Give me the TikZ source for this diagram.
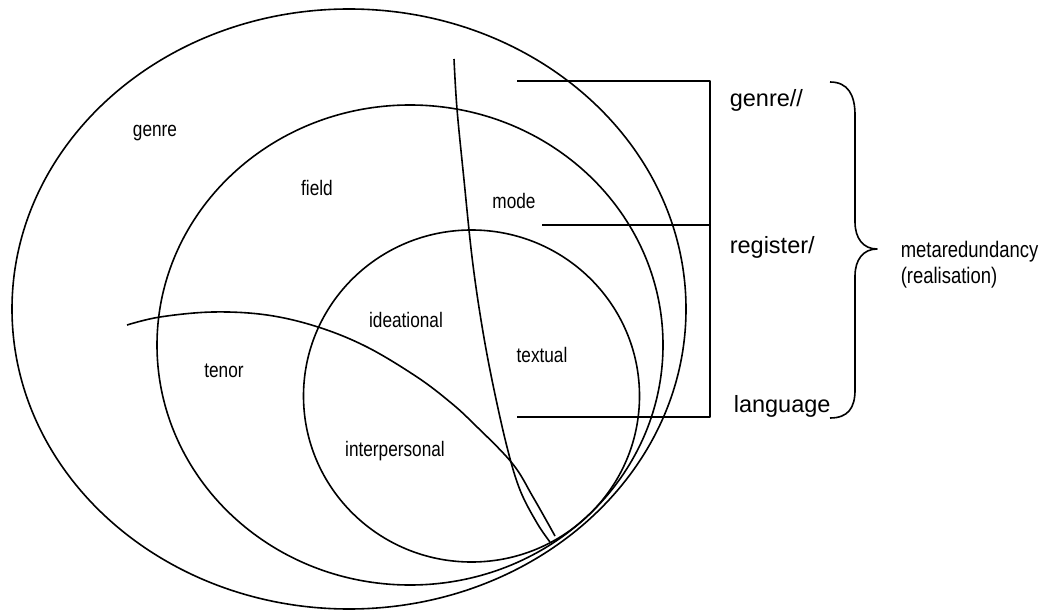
\documentclass[tikz,border=0pt]{standalone}
\usepackage{fontspec}
\setmainfont{Liberation Sans}
\newfontfamily\narrowfont[FakeStretch=0.82]{Liberation Sans}
\begin{document}
\begin{tikzpicture}[x=1pt,y=-1pt, line width=1.6pt, line join=round,
  small/.style={font=\narrowfont\fontsize{21}{24}\selectfont, inner sep=0pt, anchor=base},
  big/.style={font=\fontsize{23.5}{26}\selectfont, inner sep=0pt, anchor=base west},
  note/.style={font=\narrowfont\fontsize{22.5}{25}\selectfont, inner sep=0pt, anchor=base west}]
\useasboundingbox (0,0) rectangle (1059,612);
% ellipses
\draw (349,309) ellipse [x radius=337, y radius=300];
\draw (410,345) ellipse [x radius=253, y radius=240];
\draw (471.5,396) ellipse [x radius=168, y radius=166];
% mode / textual divider
\draw plot[smooth, tension=0.6] coordinates {(454,59) (457,109) (464,180) (472,257) (481,320) (492,380) (507,447) (520,490) (537,523) (550,542)};
% tenor / interpersonal divider
\draw plot[smooth, tension=0.6] coordinates {(127,325) (160,317) (213,312) (267,315) (318,327) (367,347) (417,377) (450,402) (473,423) (512,463) (533,497) (555,536)};
% bracket lines
\coordinate (g1) at (517,81);
\coordinate (g2) at (710,81);
\coordinate (r1) at (542,225);
\coordinate (r2) at (710,225);
\coordinate (l1) at (517,417);
\coordinate (l2) at (710,417);
\draw (g1) -- (g2) -- (l2) -- (l1);
\draw (r1) -- (r2);
% brace
\coordinate (bt) at (830,82);
\coordinate (btip) at (877,249);
\coordinate (bb) at (830,418);
\draw (bt) .. controls (848,82) and (855,95) .. (855,115) -- (855,222)
  .. controls (855,238) and (863,249) .. (btip)
  .. controls (863,249) and (855,260) .. (855,276) -- (855,390)
  .. controls (855,408) and (848,418) .. (bb);
% labels
\node[small] (genre) at (155,137) {genre};
\node[small] (field) at (317,196) {field};
\node[small] (mode) at (514,209) {mode};
\node[small] (ideational) at (406,327) {ideational};
\node[small] (textual) at (542,362) {textual};
\node[small] (tenor) at (224,377) {tenor};
\node[small] (interpersonal) at (395,456) {interpersonal};
\node[big] (genrell) at (729,107) {genre//};
\node[big] (register) at (729,253) {register/};
\node[big] (language) at (733,412) {language};
\node[note] (meta) at (900,257) {metaredundancy};
\node[note] (real) at (900,283) {(realisation)};
\end{tikzpicture}
\end{document}
